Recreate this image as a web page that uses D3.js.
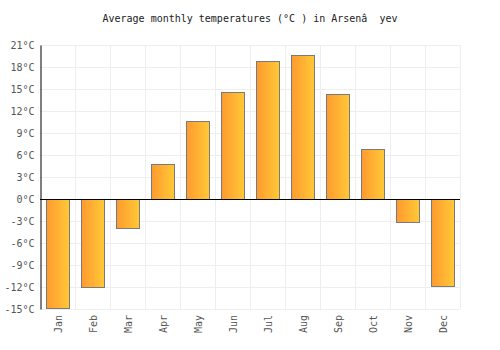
<!DOCTYPE html>
<html>
<head>
<meta charset="utf-8">
<script src="https://cdn.jsdelivr.net/npm/d3@7"></script>
<style>
body{margin:0;background:#fff;}
svg{display:block;}
text{font-family:"DejaVu Sans Mono",monospace;white-space:pre;}
</style>
</head>
<body>
<svg id="chart" width="500" height="350"></svg>
<script>
const months = ["Jan","Feb","Mar","Apr","May","Jun","Jul","Aug","Sep","Oct","Nov","Dec"];
const temps = [-14.9, -12.0, -4.0, 4.8, 10.6, 14.6, 18.8, 19.7, 14.3, 6.8, -3.1, -11.8];
const yTicks = [-15, -12, -9, -6, -3, 0, 3, 6, 9, 12, 15, 18, 21];
const title = "Average monthly temperatures (°C ) in Arsenâ  yev";

const svg = d3.select("#chart");
const m = {left: 40, right: 40, top: 45, bottom: 41};
const W = 500, H = 350;
const x = d3.scaleBand().domain(months).range([m.left, W - m.right]).paddingInner(0.34).paddingOuter(0.17);
const y = d3.scaleLinear().domain([-15, 21]).range([H - m.bottom, m.top]);

const defs = svg.append("defs");
const grad = defs.append("linearGradient").attr("id", "barGrad").attr("x1", "0%").attr("x2", "100%").attr("y1", "0%").attr("y2", "0%");
grad.append("stop").attr("offset", "0%").attr("stop-color", "#ff9a30");
grad.append("stop").attr("offset", "100%").attr("stop-color", "#ffc936");

// title
svg.append("text").attr("x", 250).attr("y", 22).attr("text-anchor", "middle")
  .attr("xml:space", "preserve")
  .attr("font-size", 10).attr("fill", "#222").text(title);

// gridlines horizontal
svg.append("g").selectAll("line").data(yTicks).join("line")
  .attr("x1", m.left).attr("x2", W - m.right)
  .attr("y1", d => Math.round(y(d)) + 0.5).attr("y2", d => Math.round(y(d)) + 0.5)
  .attr("stroke", "#eeeeee").attr("stroke-width", 1);

// gridlines vertical (band boundaries)
const step = x.step();
const bounds = months.map((d, i) => m.left + (i + 1) * step);
svg.append("g").selectAll("line").data(bounds).join("line")
  .attr("x1", d => Math.round(d) + 0.5).attr("x2", d => Math.round(d) + 0.5)
  .attr("y1", m.top).attr("y2", H - m.bottom)
  .attr("stroke", "#eeeeee").attr("stroke-width", 1);

// bars
svg.append("g").selectAll("rect").data(temps).join("rect")
  .attr("x", (d, i) => Math.round(x(months[i])) + 0.5)
  .attr("width", Math.round(x.bandwidth()))
  .attr("y", d => Math.round(y(Math.max(0, d))) + 0.5)
  .attr("height", d => Math.round(Math.abs(y(d) - y(0))))
  .attr("fill", "url(#barGrad)")
  .attr("stroke", "#7a7a7a").attr("stroke-width", 1);

// y axis
const yAxis = d3.axisLeft(y).tickValues(yTicks).tickSize(0).tickPadding(6).tickFormat(d => d + "°C");
const gy = svg.append("g").attr("transform", `translate(${m.left + 0.5},0)`).call(yAxis);
gy.select(".domain").attr("stroke", "#000");
gy.selectAll("text").attr("font-family", "DejaVu Sans Mono, monospace").attr("font-size", 10).attr("fill", "#555");

// zero line
svg.append("line").attr("x1", m.left).attr("x2", W - m.right)
  .attr("y1", Math.round(y(0)) + 0.5).attr("y2", Math.round(y(0)) + 0.5)
  .attr("stroke", "#000").attr("stroke-width", 1);

// x axis labels
const xAxis = d3.axisBottom(x).tickSize(0).tickPadding(0);
const gx = svg.append("g").attr("transform", `translate(1,${H - m.bottom})`).call(xAxis);
gx.select(".domain").remove();
gx.selectAll("text")
  .attr("font-family", "DejaVu Sans Mono, monospace").attr("font-size", 10).attr("fill", "#555")
  .attr("text-anchor", "end").attr("transform", "rotate(-90)")
  .attr("x", -6).attr("y", 0).attr("dy", "0.35em").attr("dx", 0);
</script>
</body>
</html>
